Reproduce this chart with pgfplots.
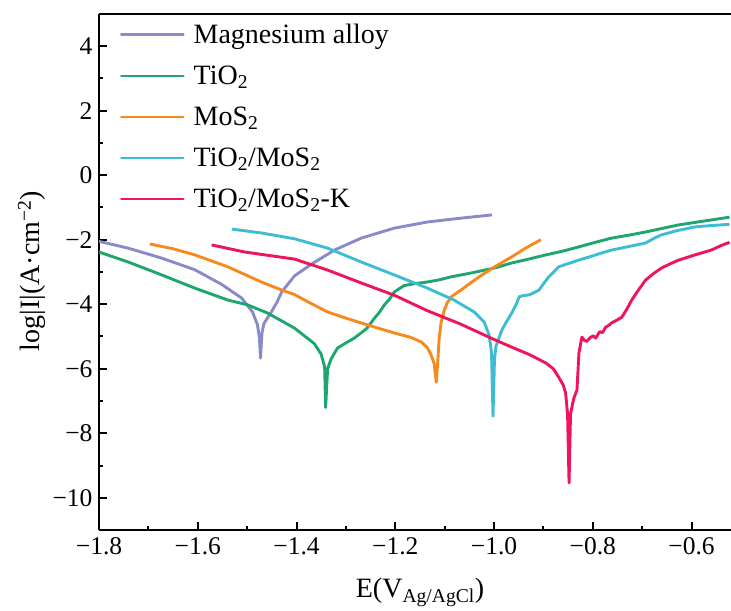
\documentclass[border=0pt]{standalone}
\usepackage{fontspec}
\setmainfont{Liberation Serif}
\usepackage{pgfplots}
\pgfplotsset{compat=1.18}
\definecolor{mgcol}{HTML}{8A8ACB}
\definecolor{ticol}{HTML}{1EA66E}
\definecolor{mocol}{HTML}{F58A1F}
\definecolor{tmcol}{HTML}{3DBDD3}
\definecolor{tkcol}{HTML}{F0145A}

\begin{document}
\begin{tikzpicture}
\useasboundingbox (-99bp,-81bp) rectangle (632bp,530bp);
\begin{axis}[
  at={(0,0)}, anchor=south west,
  width=632bp, height=516bp, scale only axis,
  xmin=-1.8, xmax=-0.52, ymin=-11, ymax=5,
  axis x line=box, axis y line=left,
  xtick pos=left, ytick pos=left,
  axis line style={-, line width=2.5bp},
  every outer x axis line/.append style={-},
  every outer y axis line/.append style={-},
  xtick={-1.8,-1.6,-1.4,-1.2,-1.0,-0.8,-0.6},
  xticklabels={−1.8,−1.6,−1.4,−1.2,−1.0,−0.8,−0.6},
  ytick={-10,-8,-6,-4,-2,0,2,4},
  yticklabels={−10,−8,−6,−4,−2,0,2,4},
  minor x tick num=1, minor y tick num=1,
  tick align=inside,
  major tick length=8bp, minor tick length=4.5bp,
  every tick/.style={black, line width=2bp},
  ticklabel style={font=\fontsize{25.5bp}{28bp}\selectfont},
  xticklabel style={yshift=-4bp},
  yticklabel style={xshift=-3bp},
  xlabel={E(V\textsubscript{Ag/AgCl})},
  ylabel={log|I|(A·cm\textsuperscript{−2})},
  every axis x label/.style={at={(axis description cs:0.508,-0.130)}, anchor=base,
    font=\fontsize{28bp}{32bp}\selectfont},
  every axis y label/.style={at={(axis description cs:-0.106,0.502)}, rotate=90, anchor=center,
    font=\fontsize{28bp}{32bp}\selectfont},
  legend style={at={(axis description cs:0.033,0.985)}, anchor=north west,
    draw=none, fill=none, font=\fontsize{28bp}{32bp}\selectfont,
    row sep=17bp, inner sep=0pt,
    /tikz/every odd column/.append style={column sep=7bp},
    /tikz/every even column/.append style={column sep=0pt}},
  legend cell align=left,
  legend image code/.code={\draw[#1, line width=2.6bp, line cap=round] (0bp,0bp) -- (62bp,0bp);},
  every axis plot/.append style={line width=2.9bp, line join=round},
]
\addplot[mgcol] coordinates {
(-1.800,-2.05) (-1.741,-2.26) (-1.673,-2.57) (-1.606,-2.93) (-1.552,-3.38)
(-1.511,-3.81) (-1.489,-4.24) (-1.479,-4.64) (-1.475,-5.05) (-1.473,-5.67)
(-1.470,-4.90) (-1.466,-4.60) (-1.451,-4.24) (-1.440,-3.95) (-1.430,-3.62)
(-1.404,-3.12) (-1.370,-2.76) (-1.323,-2.32) (-1.269,-1.95) (-1.202,-1.64)
(-1.135,-1.45) (-1.067,-1.33) (-1.004,-1.23)};
\addlegendentry{Magnesium alloy}
\addplot[ticol] coordinates {
(-1.800,-2.38) (-1.741,-2.69) (-1.673,-3.09) (-1.606,-3.50) (-1.539,-3.87)
(-1.499,-4.02) (-1.459,-4.27) (-1.404,-4.74) (-1.364,-5.22) (-1.350,-5.55)
(-1.343,-5.95) (-1.341,-7.20) (-1.337,-6.00) (-1.330,-5.70) (-1.317,-5.36)
(-1.300,-5.20) (-1.283,-5.05) (-1.270,-4.90) (-1.257,-4.74) (-1.242,-4.43)
(-1.232,-4.25) (-1.222,-4.02) (-1.212,-3.85) (-1.202,-3.62) (-1.182,-3.42)
(-1.160,-3.36) (-1.135,-3.31) (-1.110,-3.24) (-1.087,-3.15) (-1.046,-3.03)
(-1.000,-2.88) (-0.964,-2.72) (-0.930,-2.60) (-0.895,-2.47) (-0.860,-2.35)
(-0.828,-2.22) (-0.795,-2.08) (-0.762,-1.95) (-0.728,-1.86) (-0.693,-1.76)
(-0.660,-1.65) (-0.626,-1.54) (-0.575,-1.42) (-0.523,-1.30)};
\addlegendentry{TiO\textsubscript{2}}
\addplot[mocol] coordinates {
(-1.697,-2.13) (-1.650,-2.28) (-1.606,-2.47) (-1.539,-2.84) (-1.471,-3.31)
(-1.430,-3.56) (-1.404,-3.70) (-1.370,-3.98) (-1.337,-4.24) (-1.300,-4.43)
(-1.269,-4.58) (-1.235,-4.74) (-1.202,-4.89) (-1.170,-5.02) (-1.147,-5.17)
(-1.135,-5.35) (-1.128,-5.55) (-1.121,-5.85) (-1.117,-6.42) (-1.114,-5.80)
(-1.111,-5.05) (-1.107,-4.55) (-1.101,-4.20) (-1.095,-3.96) (-1.085,-3.75)
(-1.067,-3.56) (-1.034,-3.19) (-1.000,-2.85) (-0.964,-2.53) (-0.935,-2.25)
(-0.905,-2.00)};
\addlegendentry{MoS\textsubscript{2}}
\addplot[tmcol] coordinates {
(-1.531,-1.67) (-1.471,-1.79) (-1.404,-1.97) (-1.337,-2.26) (-1.269,-2.69)
(-1.202,-3.09) (-1.135,-3.50) (-1.081,-3.87) (-1.040,-4.24) (-1.020,-4.55)
(-1.010,-4.95) (-1.005,-5.50) (-1.002,-7.47) (-0.999,-5.70) (-0.996,-5.30)
(-0.990,-5.05) (-0.984,-4.80) (-0.975,-4.55) (-0.964,-4.27) (-0.955,-4.00)
(-0.949,-3.77) (-0.940,-3.73) (-0.929,-3.71) (-0.919,-3.64) (-0.909,-3.56)
(-0.899,-3.35) (-0.889,-3.15) (-0.879,-3.00) (-0.869,-2.84) (-0.850,-2.74)
(-0.828,-2.63) (-0.800,-2.50) (-0.780,-2.40) (-0.762,-2.32) (-0.730,-2.22)
(-0.693,-2.10) (-0.675,-1.95) (-0.661,-1.85) (-0.630,-1.72) (-0.592,-1.60)
(-0.560,-1.56) (-0.523,-1.52)};
\addlegendentry{TiO\textsubscript{2}/MoS\textsubscript{2}}
\addplot[tkcol] coordinates {
(-1.572,-2.16) (-1.505,-2.38) (-1.404,-2.60) (-1.337,-2.94) (-1.269,-3.34)
(-1.202,-3.72) (-1.135,-4.20) (-1.067,-4.62) (-1.006,-5.05) (-0.964,-5.33)
(-0.930,-5.55) (-0.895,-5.82) (-0.880,-6.00) (-0.869,-6.26) (-0.860,-6.50)
(-0.855,-6.75) (-0.851,-7.40) (-0.848,-9.54) (-0.845,-7.40) (-0.841,-7.10)
(-0.838,-6.90) (-0.832,-6.66) (-0.830,-6.10) (-0.828,-5.51) (-0.822,-5.02)
(-0.817,-5.12) (-0.812,-5.15) (-0.804,-5.02) (-0.799,-4.98) (-0.794,-5.05)
(-0.786,-4.85) (-0.780,-4.88) (-0.774,-4.71) (-0.768,-4.66) (-0.762,-4.58)
(-0.752,-4.50) (-0.741,-4.40) (-0.731,-4.15) (-0.721,-3.87) (-0.707,-3.55)
(-0.693,-3.25) (-0.677,-3.05) (-0.661,-2.88) (-0.645,-2.76) (-0.626,-2.63)
(-0.593,-2.47) (-0.560,-2.32) (-0.540,-2.18) (-0.523,-2.08)};
\addlegendentry{TiO\textsubscript{2}/MoS\textsubscript{2}-K}
\end{axis}
\end{tikzpicture}
\end{document}
